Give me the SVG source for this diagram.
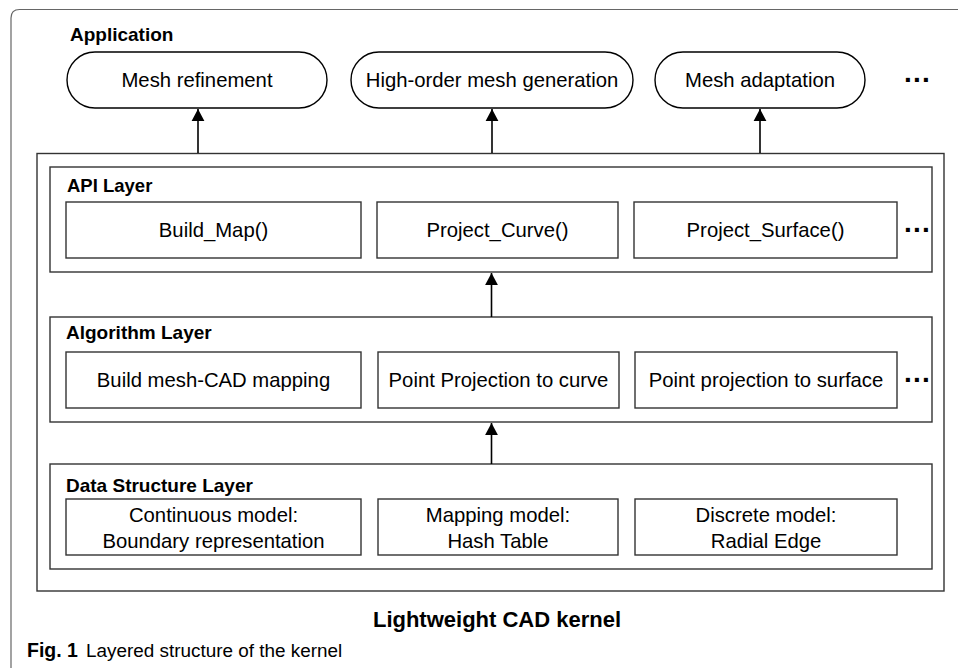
<svg xmlns="http://www.w3.org/2000/svg" width="958" height="668" viewBox="0 0 958 668">
<style>
text{font-family:"Liberation Sans",Arial,sans-serif;fill:#000}
.t{font-size:20.3px;text-anchor:middle}
.h{font-size:19px;font-weight:bold}
.pill{fill:#fff;stroke:#000;stroke-width:1.4}
.box{fill:#fff;stroke:#333;stroke-width:1.4}
.dots{font-size:28px;font-weight:bold;letter-spacing:1.2px}
.conn line{stroke:#000;stroke-width:1.6}
</style>
<defs>
<marker id="ah" markerUnits="userSpaceOnUse" markerWidth="14" markerHeight="14" viewBox="0 0 14 14" refX="12" refY="7" orient="auto">
<path d="M0,0.6 L12,7 L0,13.4 Z" fill="#000"/>
</marker>
</defs>
<rect width="958" height="668" fill="#fff"/>
<path id="frame" d="M11,668 V18 Q11,9.5 19.5,9.5 H958" fill="none" stroke="#666" stroke-width="1.2"/>

<g id="application">
<text class="h" x="70" y="41">Application</text>
</g>
<g id="app-mesh-refinement">
<rect class="pill" x="67" y="52" width="260" height="56" rx="28"/>
<text class="t" x="197" y="87">Mesh refinement</text>
</g>
<g id="app-high-order">
<rect class="pill" x="351" y="52" width="282" height="56" rx="28"/>
<text class="t" x="492" y="87">High-order mesh generation</text>
</g>
<g id="app-mesh-adaptation">
<rect class="pill" x="655" y="52" width="210" height="56" rx="28"/>
<text class="t" x="760" y="87">Mesh adaptation</text>
</g>
<text class="dots" x="904" y="82">...</text>

<g id="kernel">
<rect class="box" x="37" y="153.5" width="907" height="437.5"/>
</g>

<g id="api-layer">
<rect class="box" x="50" y="167" width="882" height="105"/>
<text class="h" x="67" y="192" style="font-size:18.5px">API Layer</text>
</g>
<g id="api-build-map">
<rect class="box" x="66" y="202" width="295" height="56"/>
<text class="t" x="213.5" y="237">Build_Map()</text>
</g>
<g id="api-project-curve">
<rect class="box" x="377" y="202" width="241" height="56"/>
<text class="t" x="497.5" y="237">Project_Curve()</text>
</g>
<g id="api-project-surface">
<rect class="box" x="634" y="202" width="263" height="56"/>
<text class="t" x="765.5" y="237">Project_Surface()</text>
</g>
<text class="dots" x="904" y="232">...</text>

<g id="algorithm-layer">
<rect class="box" x="50" y="317" width="882" height="105"/>
<text class="h" x="66" y="339">Algorithm Layer</text>
</g>
<g id="alg-build-mapping">
<rect class="box" x="66" y="352" width="295" height="56"/>
<text class="t" x="213.5" y="387">Build mesh-CAD mapping</text>
</g>
<g id="alg-point-curve">
<rect class="box" x="378" y="352" width="241" height="56"/>
<text class="t" x="498.5" y="387">Point Projection to curve</text>
</g>
<g id="alg-point-surface">
<rect class="box" x="635" y="352" width="262" height="56"/>
<text class="t" x="766" y="387">Point projection to surface</text>
</g>
<text class="dots" x="904" y="382">...</text>

<g id="data-structure-layer">
<rect class="box" x="50" y="464" width="882" height="105"/>
<text class="h" x="66" y="492">Data Structure Layer</text>
</g>
<g id="ds-continuous">
<rect class="box" x="66" y="499" width="295" height="56"/>
<text class="t" x="213.5" y="522">Continuous model:</text>
<text class="t" x="213.5" y="548">Boundary representation</text>
</g>
<g id="ds-mapping">
<rect class="box" x="378" y="499" width="240" height="56"/>
<text class="t" x="498" y="522">Mapping model:</text>
<text class="t" x="498" y="548">Hash Table</text>
</g>
<g id="ds-discrete">
<rect class="box" x="635" y="499" width="262" height="56"/>
<text class="t" x="766" y="522">Discrete model:</text>
<text class="t" x="766" y="548">Radial Edge</text>
</g>

<g id="connectors" class="conn">
<line x1="198" y1="153" x2="198" y2="109" marker-end="url(#ah)"/>
<line x1="492" y1="153" x2="492" y2="109" marker-end="url(#ah)"/>
<line x1="760" y1="153" x2="760" y2="109" marker-end="url(#ah)"/>
<line x1="491.5" y1="317" x2="491.5" y2="273" marker-end="url(#ah)"/>
<line x1="491.5" y1="464" x2="491.5" y2="423" marker-end="url(#ah)"/>
</g>

<text x="497" y="627" style="font-size:22px;font-weight:bold;text-anchor:middle">Lightweight CAD kernel</text>
<text x="27" y="657" style="font-size:18.9px"><tspan style="font-weight:bold;font-size:19.5px">Fig. 1</tspan><tspan x="86">Layered structure of the kernel</tspan></text>
</svg>
